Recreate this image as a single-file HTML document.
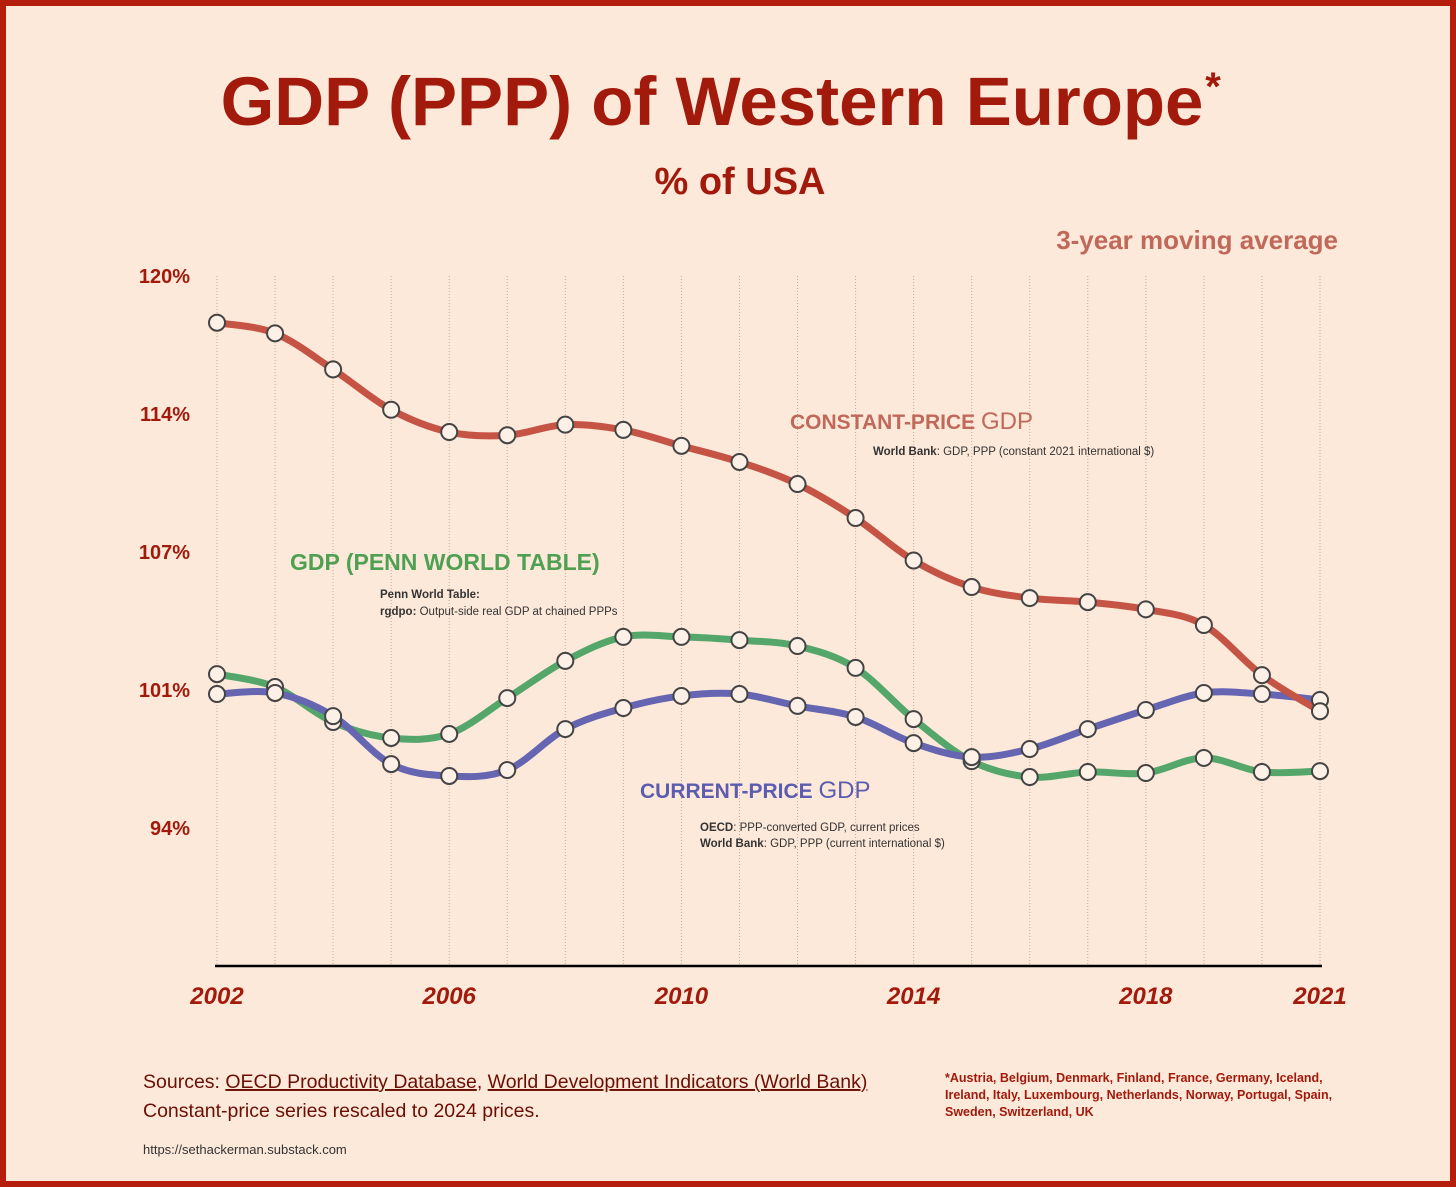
<!DOCTYPE html>
<html><head><meta charset="utf-8">
<style>
body{margin:0;background:#b51d0d;}
#wrap{position:absolute;left:0;top:0;width:1456px;height:1187px;background:#b51d0d;}
#inner{position:absolute;left:6px;top:6px;width:1444px;height:1175px;background:#fde9da;}
svg{position:absolute;left:0;top:0}
text{font-family:"Liberation Sans",sans-serif}
</style></head><body>
<div id="wrap"><div id="inner"></div>
<svg id="chart" width="1456" height="1187">
<text x="712" y="125" text-anchor="middle" font-size="69" font-weight="bold" fill="#a21a0b">GDP (PPP) of Western Europe</text>
<text x="1213" y="100" text-anchor="middle" font-size="40" font-weight="bold" fill="#a21a0b">*</text>
<text x="740" y="194" text-anchor="middle" font-size="38" font-weight="bold" fill="#a21a0b">% of USA</text>
<text x="1338" y="249" text-anchor="end" font-size="26" font-weight="bold" fill="#c0695a">3-year moving average</text>
<g id="grid"></g><g id="yaxis"></g><g id="xaxis"></g><g id="series"></g>
<text x="790" y="429" font-size="21" font-weight="bold" fill="#c0695a">CONSTANT-PRICE <tspan font-weight="normal" font-size="24">GDP</tspan></text>
<text x="873" y="455" font-size="11.5" fill="#333"><tspan font-weight="bold">World Bank</tspan>: GDP, PPP (constant 2021 international $)</text>
<text x="290" y="570" font-size="23" font-weight="bold" fill="#4fa052">GDP (PENN WORLD TABLE)</text>
<text x="380" y="598" font-size="11.5" font-weight="bold" fill="#333">Penn World Table:</text>
<text x="380" y="615" font-size="11.5" fill="#333"><tspan font-weight="bold">rgdpo:</tspan> Output-side real GDP at chained PPPs</text>
<text x="640" y="798" font-size="21" font-weight="bold" fill="#5c5cb0">CURRENT-PRICE <tspan font-weight="normal" font-size="24">GDP</tspan></text>
<text x="700" y="831" font-size="11.5" fill="#333"><tspan font-weight="bold">OECD</tspan>: PPP-converted GDP, current prices</text>
<text x="700" y="847" font-size="11.5" fill="#333"><tspan font-weight="bold">World Bank</tspan>: GDP, PPP (current international $)</text>
<text x="143" y="1088" font-size="19.5" fill="#6b0f05">Sources: <tspan text-decoration="underline">OECD Productivity Database</tspan>, <tspan text-decoration="underline">World Development Indicators (World Bank)</tspan></text>
<text x="143" y="1117" font-size="19.5" fill="#6b0f05">Constant-price series rescaled to 2024 prices.</text>
<text x="143" y="1154" font-size="13" fill="#333">https://sethackerman.substack.com</text>
<text font-size="12.5" font-weight="bold" fill="#a21a0b"><tspan x="945" y="1082">*Austria, Belgium, Denmark, Finland, France, Germany, Iceland,</tspan><tspan x="945" y="1099">Ireland, Italy, Luxembourg, Netherlands, Norway, Portugal, Spain,</tspan><tspan x="945" y="1116">Sweden, Switzerland, UK</tspan></text>
</svg></div>
<script>
const years=[2002,2003,2004,2005,2006,2007,2008,2009,2010,2011,2012,2013,2014,2015,2016,2017,2018,2019,2020,2021];
const constantPrice=[117.8,117.3,115.6,113.7,112.65,112.5,113.0,112.75,112.0,111.24,110.2,108.6,106.6,105.35,104.83,104.64,104.3,103.56,101.2,99.5];
const pennWorld=[101.25,100.64,98.99,98.24,98.43,100.12,101.87,103.0,103.0,102.85,102.57,101.54,99.13,97.15,96.4,96.64,96.59,97.3,96.64,96.68];
const currentPrice=[100.31,100.36,99.27,97.01,96.45,96.73,98.66,99.65,100.22,100.31,99.75,99.23,98.0,97.34,97.72,98.66,99.56,100.36,100.31,100.03];
const yTicks=[120,113.5,107,100.5,94];
const yTickLabels=["120%","114%","107%","101%","94%"];
const xTickLabels=[2002,2006,2010,2014,2018,2021];
const NS="http://www.w3.org/2000/svg";
const X=y=>217+(y-2002)*(1320-217)/19;
const Y=v=>276+(120-v)*(138/6.5);
function mk(tag,attrs,parent){const e=document.createElementNS(NS,tag);for(const k in attrs)e.setAttribute(k,attrs[k]);parent.appendChild(e);return e;}
const grid=document.getElementById('grid'),ya=document.getElementById('yaxis'),xa=document.getElementById('xaxis'),ser=document.getElementById('series');
years.forEach(y=>{const l=mk('line',{x1:X(y),x2:X(y),y1:276,y2:966,stroke:'#c9a89a','stroke-width':1,'stroke-dasharray':'1 2'},grid);

});
yTicks.forEach((v,i)=>{const t=mk('text',{x:190,y:Y(v)+7,'text-anchor':'end','font-size':20,'font-weight':'bold',fill:'#a21a0b'},ya);t.textContent=yTickLabels[i];

});
const ax=mk('line',{x1:215,x2:1322,y1:966,y2:966,stroke:'#000','stroke-width':2.5},xa);


xTickLabels.forEach(y=>{const t=mk('text',{x:X(y),y:1004,'text-anchor':'middle','font-size':24,'font-weight':'bold','font-style':'italic',fill:'#a21a0b'},xa);t.textContent=y;

});
function path(vals){const p=vals.map((v,i)=>[X(years[i]),Y(v)]);let d='M'+p[0];for(let i=0;i<p.length-1;i++){const p0=p[i-1]||p[i],p1=p[i],p2=p[i+1],p3=p[i+2]||p2;
d+=' C'+(p1[0]+(p2[0]-p0[0])/6)+','+(p1[1]+(p2[1]-p0[1])/6)+' '+(p2[0]-(p3[0]-p1[0])/6)+','+(p2[1]-(p3[1]-p1[1])/6)+' '+p2;}return d;}
const series=[[pennWorld,'#55a66a','penn'],[currentPrice,'#6565b2','current-price'],[constantPrice,'#c65444','constant-price']];
series.forEach(([vals,col,name])=>{const l=mk('path',{d:path(vals),fill:'none',stroke:col,'stroke-width':7,'stroke-linecap':'round'},ser);

});
series.forEach(([vals,col,name])=>{vals.forEach((v,i)=>{const c=mk('circle',{cx:X(years[i]),cy:Y(v),r:8,fill:'#fdf0e6',stroke:'#444','stroke-width':2},ser);

});});
</script>
</body></html>
